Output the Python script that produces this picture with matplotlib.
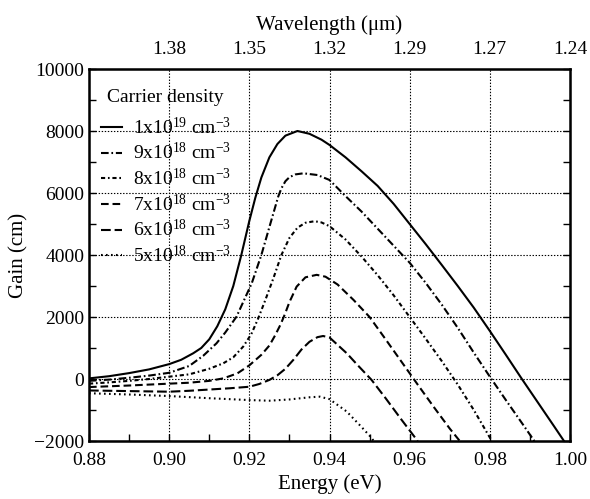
import matplotlib
matplotlib.use("Agg")
import matplotlib.pyplot as plt
from matplotlib.ticker import MultipleLocator

plt.rcParams['font.family'] = ['Liberation Serif', 'DejaVu Serif']
plt.rcParams['mathtext.fontset'] = 'custom'
plt.rcParams['mathtext.rm'] = 'Liberation Serif'
plt.rcParams['mathtext.it'] = 'Liberation Serif:italic'
plt.rcParams['lines.scale_dashes'] = False

# ---- data ----
E_1e19 = [0.880, 0.885, 0.890, 0.895, 0.900, 0.903, 0.906, 0.908, 0.910, 0.912, 0.914, 0.916,
          0.918, 0.920, 0.9215, 0.923, 0.925, 0.927, 0.929, 0.932, 0.935, 0.938, 0.940, 0.944,
          0.948, 0.952, 0.956, 0.960, 0.964, 0.968, 0.972, 0.976, 0.980, 0.984, 0.988, 0.992,
          0.996, 0.9985]
G_1e19 = [20, 90, 190, 310, 480, 620, 830, 1000, 1280, 1700, 2250, 3000,
          4000, 5100, 5850, 6500, 7150, 7580, 7850, 8000, 7910, 7720, 7550, 7150,
          6700, 6230, 5650, 5000, 4350, 3680, 3000, 2300, 1550, 780, 0, -760,
          -1520, -2000]

E_9e18 = [0.880, 0.885, 0.890, 0.895, 0.900, 0.905, 0.9085, 0.9118, 0.914, 0.9168, 0.9206, 0.923,
          0.925, 0.9272, 0.928, 0.929, 0.930, 0.9315, 0.9335, 0.937, 0.940, 0.944, 0.948, 0.952,
          0.956, 0.960, 0.964, 0.968, 0.972, 0.976, 0.980, 0.984, 0.988, 0.9911]
G_9e18 = [-60, -20, 40, 110, 200, 420, 750, 1150, 1500, 2010, 3086, 4000,
          4900, 5882, 6150, 6380, 6510, 6600, 6635, 6580, 6420, 5900, 5400, 4850,
          4300, 3750, 3100, 2400, 1650, 850, 75, -680, -1420, -2000]

E_8e18 = [0.880, 0.885, 0.890, 0.895, 0.900, 0.905, 0.910, 0.9135, 0.916, 0.9185, 0.9205, 0.9222,
          0.924, 0.926, 0.928, 0.930, 0.932, 0.934, 0.9363, 0.938, 0.940, 0.944, 0.948, 0.952,
          0.956, 0.960, 0.964, 0.968, 0.972, 0.976, 0.9805]
G_8e18 = [-150, -110, -60, 0, 75, 150, 330, 506, 700, 1050, 1450, 1950,
          2550, 3250, 4000, 4550, 4880, 5040, 5090, 5050, 4930, 4500, 3950, 3350,
          2700, 2000, 1300, 580, -180, -1000, -2000]

E_7e18 = [0.880, 0.890, 0.900, 0.905, 0.910, 0.9135, 0.917, 0.920, 0.923, 0.925, 0.9264, 0.9278,
          0.9289, 0.930, 0.9318, 0.934, 0.9368, 0.939, 0.942, 0.946, 0.950, 0.954, 0.958, 0.962,
          0.966, 0.970, 0.9725]
G_7e18 = [-260, -210, -150, -120, -60, 20, 180, 440, 780, 1080, 1400, 1760,
          2100, 2480, 2980, 3280, 3360, 3300, 3050, 2550, 2000, 1280, 550, -180,
          -900, -1600, -2000]

E_6e18 = [0.880, 0.890, 0.900, 0.905, 0.910, 0.915, 0.920, 0.9225, 0.925, 0.927, 0.929, 0.931,
          0.933, 0.935, 0.937, 0.9384, 0.940, 0.9443, 0.947, 0.9505, 0.954, 0.958, 0.962]
G_6e18 = [-370, -390, -410, -380, -340, -300, -250, -160, -30, 120, 330, 620,
          950, 1200, 1350, 1387, 1340, 830, 450, -30, -620, -1320, -2000]

E_5e18 = [0.880, 0.890, 0.900, 0.910, 0.920, 0.925, 0.930, 0.935, 0.9376, 0.940, 0.9443, 0.948,
          0.9505, 0.951]
G_5e18 = [-460, -500, -550, -620, -680, -700, -660, -590, -570, -650, -1050, -1550,
          -1900, -2000]

labels = [r'1x10$^{19}$ cm$^{-3}$', r'9x10$^{18}$ cm$^{-3}$', r'8x10$^{18}$ cm$^{-3}$',
          r'7x10$^{18}$ cm$^{-3}$', r'6x10$^{18}$ cm$^{-3}$', r'5x10$^{18}$ cm$^{-3}$']

energy_ticks = [0.88, 0.90, 0.92, 0.94, 0.96, 0.98, 1.00]
top_ticks = [0.90, 0.92, 0.94, 0.96, 0.98, 1.00]
wavelength_labels = ['1.38', '1.35', '1.32', '1.29', '1.27', '1.24']
gain_ticks = [-2000, 0, 2000, 4000, 6000, 8000, 10000]
grid_x = [0.90, 0.92, 0.94, 0.96, 0.98]
grid_y = [0, 2000, 4000, 6000, 8000]

# ---- figure ----
fig = plt.figure(figsize=(5.90, 4.99), dpi=100)
ax = fig.add_axes([89/590, 1-441/499, (570-89)/590, (441-69)/499])

for gx in grid_x:
    ax.axvline(gx, color='black', lw=0.8, ls=(0, (1, 1.2)), zorder=1)
for gy in grid_y:
    ax.axhline(gy, color='black', lw=0.8, ls=(0, (1, 1.2)), zorder=1)

lw = 1.5
styles = [
    dict(ls='-'),
    dict(ls=(0, (5.5, 2.0, 1.2, 2.0))),
    dict(ls=(0, (3.0, 2.0, 1.2, 2.0))),
    dict(ls=(0, (5.5, 2.8))),
    dict(ls=(0, (7.0, 2.8))),
    dict(ls=(0, (1.2, 2.4))),
]
series = [(E_1e19, G_1e19), (E_9e18, G_9e18), (E_8e18, G_8e18),
          (E_7e18, G_7e18), (E_6e18, G_6e18), (E_5e18, G_5e18)]
for (e, g), st, lab in zip(series, styles, labels):
    ax.plot(e, g, color='black', lw=lw, label=lab, zorder=3, **st)

ax.set_xlim(0.88, 1.00)
ax.set_ylim(-2000, 10000)
ax.set_xticks(energy_ticks)
ax.set_xticklabels([f'{v:.2f}' for v in energy_ticks])
ax.set_yticks(gain_ticks)
ax.set_yticklabels([f'{v:d}'.replace('-', '\u2212') for v in gain_ticks])
ax.xaxis.set_minor_locator(MultipleLocator(0.01))
ax.yaxis.set_minor_locator(MultipleLocator(1000))
ax.tick_params(which='both', direction='in', top=False, right=True, labelsize=14,
               length=5, width=1.0)
ax.tick_params(axis='x', pad=8)
for sp in ax.spines.values():
    sp.set_linewidth(1.8)

ax.set_xlabel('Energy (eV)', fontsize=15, labelpad=4)
ax.set_ylabel('Gain (cm)', fontsize=15, labelpad=4)

top = ax.twiny()
top.set_xlim(ax.get_xlim())
top.set_xticks(top_ticks)
top.set_xticklabels(wavelength_labels)
top.tick_params(axis='x', length=0, labelsize=14, pad=8)
top.set_xlabel('Wavelength (\u03bcm)', fontsize=15, labelpad=8)

lspace = 0.23
leg = ax.legend(title='Carrier density', loc='upper left', frameon=False, fontsize=14,
                title_fontsize=14, handlelength=1.1, handletextpad=0.55, labelspacing=lspace,
                borderaxespad=0.2, bbox_to_anchor=(0.0, 0.978))
leg._legend_box.sep = lspace * 14 + 4.5

fig.savefig('out.png', dpi=100)
